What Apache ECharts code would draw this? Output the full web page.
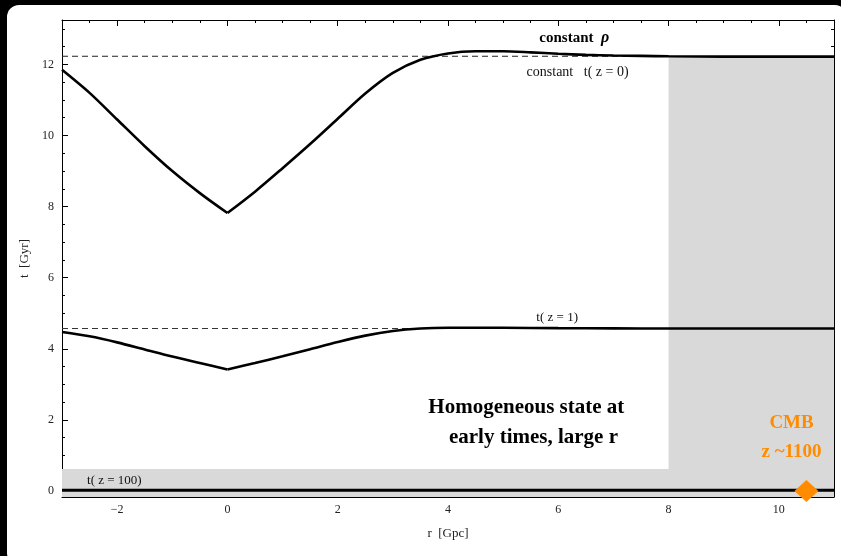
<!DOCTYPE html>
<html>
<head>
<meta charset="utf-8">
<script src="https://cdn.jsdelivr.net/npm/echarts@6/dist/echarts.min.js"></script>
<style>
  html, body { margin:0; padding:0; background:#000; width:841px; height:556px; overflow:hidden; }
  #card { position:absolute; left:7px; top:5px; width:840px; height:560px; background:#fff; border-radius:12px; }
  #chart { position:absolute; left:0; top:0; width:841px; height:556px; }
</style>
</head>
<body>
<div id="card"></div>
<div id="chart"></div>
<script>
// ---- data ----
// constant rho curve, left and right branches (cusp at r = 0)
const r_constRho_left = [-3, -2.5, -2, -1.5, -1, -0.5, 0];
const t_constRho_left = [11.85, 11.2, 10.45, 9.7, 9.0, 8.38, 7.82];
const r_constRho_right = [0, 0.5, 1, 1.5, 2, 2.5, 3, 3.5, 4, 4.5, 5, 5.5, 6, 6.5, 7, 7.5, 8, 9, 10, 11];
const t_constRho_right = [7.82, 8.42, 9.08, 9.76, 10.47, 11.18, 11.76, 12.13, 12.31, 12.37, 12.37, 12.34, 12.3, 12.27, 12.25, 12.24, 12.23, 12.22, 12.22, 12.22];

// t(z=1) curve, left and right branches
const r_z1_left = [-3, -2.5, -2, -1.5, -1, -0.5, 0];
const t_z1_left = [4.47, 4.35, 4.18, 3.98, 3.78, 3.6, 3.42];
const r_z1_right = [0, 0.5, 1, 1.5, 2, 2.5, 3, 3.5, 4, 4.5, 5, 6, 7, 8, 9, 10, 11];
const t_z1_right = [3.42, 3.6, 3.79, 3.99, 4.19, 4.37, 4.5, 4.57, 4.59, 4.59, 4.59, 4.58, 4.575, 4.57, 4.57, 4.57, 4.57];

const r_range = [-3, 11];
const t_const_z0 = 12.23;       // constant t(z=0), dashed
const r_const_z0_end = 8;
const t_const_z1 = 4.57;        // t(z=1), dashed
const r_const_z1_end = 4;
const t_z100 = 0.02;            // t(z=100)
const cmbPoint = [10.5, 0];

const shadeHomogeneousR = [8, 11];
const shadeHomogeneousT = [-0.17, 12.2];
const shadeEarlyR = [-3, 11];
const shadeEarlyT = [-0.17, 0.62];

const xMajorTicks = [-2, 0, 2, 4, 6, 8, 10];
const xMinorTicks = [-2.5, -1.5, -1, -0.5, 0.5, 1, 1.5, 2.5, 3, 3.5, 4.5, 5, 5.5, 6.5, 7, 7.5, 8.5, 9, 9.5, 10.5];
const yMajorTicks = [0, 2, 4, 6, 8, 10, 12];
const yMinorTicks = [0.5, 1, 1.5, 2.5, 3, 3.5, 4.5, 5, 5.5, 6.5, 7, 7.5, 8.5, 9, 9.5, 10.5, 11, 11.5, 12.5, 13];

const annotationTexts = ['{b|constant}  {i|ρ}', 'constant   t( z = 0)', 't( z = 1)', 't( z = 100)', 'Homogeneous state at', 'early times, large r', 'CMB', 'z ~1100'];

// ---- layout / styles ----
const annPos = [[6.29, 12.75], [6.35, 11.79], [5.98, 4.87], [-2.05, 0.3], [5.42, 2.34], [5.55, 1.5], [10.23, 1.9], [10.23, 1.08]];
const FONT = "'Liberation Serif', 'DejaVu Serif', serif";
const annStyle = [
  {fontSize: 15, fontWeight: 'bold', color: '#000',
   rich: {b: {fontFamily: FONT, fontSize: 15, fontWeight: 'bold', color: '#000'},
          i: {fontFamily: FONT, fontSize: 16, fontWeight: 'bold', fontStyle: 'italic', color: '#000'}}},
  {fontSize: 14, color: '#111'},
  {fontSize: 13, color: '#111'},
  {fontSize: 13, color: '#111'},
  {fontSize: 21, fontWeight: 'bold', color: '#000'},
  {fontSize: 21, fontWeight: 'bold', color: '#000'},
  {fontSize: 19, fontWeight: 'bold', color: '#ff8c00'},
  {fontSize: 19, fontWeight: 'bold', color: '#ff8c00'}
];
const XMIN = r_range[0], XMAX = r_range[1], YMIN = -0.17, YMAX = 13.25;

function zip(a, b) { return a.map((v, i) => [v, b[i]]); }

function xAxisDef(pos, major, showLabels, name) {
  return {
    type: 'value', position: pos, min: XMIN, max: XMAX,
    axisLine: {show: major, onZero: false, lineStyle: {color: '#000', width: 1}},
    axisTick: {show: true, inside: true, length: major ? 6 : 3, customValues: major ? xMajorTicks : xMinorTicks, lineStyle: {color: '#000', width: 1}},
    axisLabel: {show: showLabels, customValues: xMajorTicks, fontFamily: FONT, fontSize: 12, color: '#222', margin: 7,
      formatter: v => (v < 0 ? '\u2212' + Math.abs(v) : String(v))},
    splitLine: {show: false},
    name: name || '', nameLocation: 'middle', nameGap: 30,
    nameTextStyle: {fontFamily: FONT, fontSize: 13, color: '#222'}
  };
}
function yAxisDef(pos, major, showLabels, name) {
  return {
    type: 'value', position: pos, min: YMIN, max: YMAX,
    axisLine: {show: major, onZero: false, lineStyle: {color: '#000', width: 1}},
    axisTick: {show: true, inside: true, length: major ? 6 : 3, customValues: major ? yMajorTicks : yMinorTicks, lineStyle: {color: '#000', width: 1}},
    axisLabel: {show: showLabels, customValues: yMajorTicks, fontFamily: FONT, fontSize: 12, color: '#222', margin: 8},
    splitLine: {show: false},
    name: name || '', nameLocation: 'middle', nameGap: 24, nameRotate: 90,
    nameTextStyle: {fontFamily: FONT, fontSize: 13, color: '#222'}
  };
}

function curve(name, xs, ys) {
  return {
    name: name, type: 'line', data: zip(xs, ys),
    symbol: 'none', smooth: 0.3, lineStyle: {color: '#000', width: 2.6}, z: 4
  };
}

const chart = echarts.init(document.getElementById('chart'), null, {renderer: 'canvas'});
chart.setOption({
  backgroundColor: 'transparent',
  animation: false,
  grid: {left: 62, right: 7, top: 20, bottom: 59, containLabel: false},
  xAxis: [
    xAxisDef('bottom', true, true, 'r  [Gpc]'),
    xAxisDef('bottom', false, false),
    xAxisDef('top', true, false),
    xAxisDef('top', false, false)
  ],
  yAxis: [
    yAxisDef('left', true, true, 't  [Gyr]'),
    yAxisDef('left', false, false),
    yAxisDef('right', true, false),
    yAxisDef('right', false, false)
  ],
  series: [
    {
      name: 't(z=100)', type: 'line', data: [[r_range[0], t_z100], [r_range[1], t_z100]],
      symbol: 'none', lineStyle: {color: '#000', width: 3}, z: 3,
      markArea: {
        silent: true,
        itemStyle: {color: '#d9d9d9'},
        data: [
          [{coord: [shadeHomogeneousR[0], shadeHomogeneousT[0]]}, {coord: [shadeHomogeneousR[1], shadeHomogeneousT[1]]}],
          [{coord: [shadeEarlyR[0], shadeEarlyT[0]]}, {coord: [shadeEarlyR[1], shadeEarlyT[1]]}]
        ]
      }
    },
    {
      name: 'constant t(z=0)', type: 'line', data: [[r_range[0], t_const_z0], [r_const_z0_end, t_const_z0]],
      symbol: 'none', lineStyle: {color: '#222', width: 1, type: [6, 4]}, z: 2
    },
    {
      name: 't(z=1) dashed', type: 'line', data: [[r_range[0], t_const_z1], [r_const_z1_end, t_const_z1]],
      symbol: 'none', lineStyle: {color: '#333', width: 1, type: [6, 4]}, z: 2
    },
    curve('constant rho (r<0)', r_constRho_left, t_constRho_left),
    curve('constant rho (r>0)', r_constRho_right, t_constRho_right),
    curve('t(z=1) (r<0)', r_z1_left, t_z1_left),
    curve('t(z=1) (r>0)', r_z1_right, t_z1_right),
    {
      name: 'CMB', type: 'scatter', data: [cmbPoint], symbol: 'diamond', symbolSize: [24, 22],
      itemStyle: {color: '#ff8c00', opacity: 1}, z: 6
    },
    {
      name: 'annotations', type: 'scatter', symbolSize: 0, z: 7, silent: true,
      itemStyle: {opacity: 1},
      data: annotationTexts.map((t, i) => ({
        value: annPos[i],
        label: Object.assign({show: true, position: 'inside', formatter: t, fontFamily: FONT}, annStyle[i])
      }))
    }
  ]
});
</script>
</body>
</html>
